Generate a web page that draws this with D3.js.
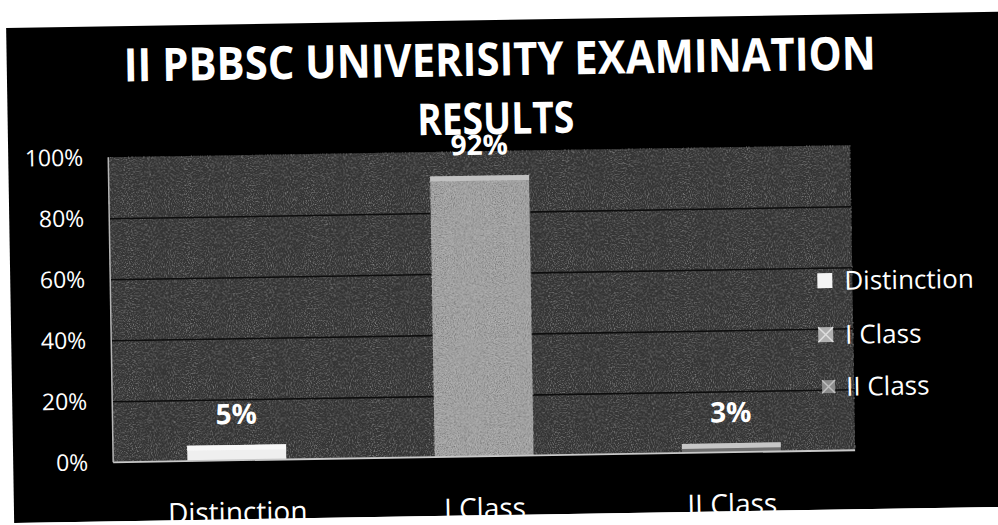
<!DOCTYPE html>
<html>
<head>
<meta charset="utf-8">
<script src="https://cdn.jsdelivr.net/npm/d3@7"></script>
<style>
  html, body { margin: 0; padding: 0; background: #ffffff; overflow: hidden; }
  svg { display: block; }
  text { font-family: "Open Sans", "Liberation Sans", sans-serif; }
</style>
</head>
<body>
<svg id="chart" width="998" height="525"></svg>
<script>
// ---- data ----
const categories = ["Distinction", "I Class", "II Class"];
const values = [5, 92, 3];
const yTicks = [0, 20, 40, 60, 80, 100];
const gridTicks = [20, 40, 60, 80];
const titleLines = ["II PBBSC UNIVERISITY EXAMINATION", "RESULTS"];
const legendNames = ["Distinction", "I Class", "II Class"];

// ---- styles ----
const barFill = { "Distinction": "#efefef", "I Class": "#a2a2a2", "II Class": "#6e6e6e" };
const barTop = { "Distinction": "#f7f7f7", "I Class": "#c4c4c4", "II Class": "#d0d0d0" };

const svg = d3.select("#chart");
const defs = svg.append("defs");

// grain filter (light speckles)
const f1 = defs.append("filter").attr("id", "grainLight")
  .attr("x", 0).attr("y", 0).attr("width", "100%").attr("height", "100%");
f1.append("feTurbulence").attr("type", "fractalNoise").attr("baseFrequency", "0.95 0.75")
  .attr("numOctaves", 2).attr("seed", 7).attr("result", "t");
f1.append("feColorMatrix").attr("type", "matrix")
  .attr("values", "0 0 0 0 1  0 0 0 0 1  0 0 0 0 1  2.2 0 0 0 -1.0");
// grain filter (dark speckles)
const f2 = defs.append("filter").attr("id", "grainDark")
  .attr("x", 0).attr("y", 0).attr("width", "100%").attr("height", "100%");
f2.append("feTurbulence").attr("type", "fractalNoise").attr("baseFrequency", "0.9 0.9")
  .attr("numOctaves", 2).attr("seed", 13).attr("result", "t");
f2.append("feColorMatrix").attr("type", "matrix")
  .attr("values", "0 0 0 0 0  0 0 0 0 0  0 0 0 0 0  2.2 0 0 0 -1.0");

// whole scanned chart is slightly rotated
const g = svg.append("g").attr("transform", "rotate(-0.93, 499, 262)");

// black chart area
g.append("rect").attr("x", 10).attr("y", 20).attr("width", 1100).attr("height", 495).attr("fill", "#000");

// scales
const plot = { left: 110, right: 852, top: 151, bottom: 456 };
const y = d3.scaleLinear().domain([0, 100]).range([plot.bottom, plot.top]);
const x = d3.scaleBand().domain(categories).range([plot.left, plot.right]).padding(0);
const barW = x.bandwidth() * 0.4;

// plot area background
g.append("rect").attr("x", plot.left).attr("y", plot.top)
  .attr("width", plot.right - plot.left).attr("height", plot.bottom - plot.top)
  .attr("fill", "#353535");
g.append("rect").attr("x", plot.left).attr("y", plot.top)
  .attr("width", plot.right - plot.left).attr("height", plot.bottom - plot.top)
  .attr("fill", "#fff").attr("filter", "url(#grainLight)").attr("opacity", 0.45);

// gridlines
const grid = g.append("g").attr("transform", `translate(${plot.left},0)`)
  .call(d3.axisLeft(y).tickValues(gridTicks).tickSize(-(plot.right - plot.left)).tickFormat(""));
grid.select(".domain").remove();
grid.selectAll("line").attr("stroke", "#0d0d0d").attr("stroke-width", 1.6);

// bars
const bars = g.append("g");
categories.forEach((c, i) => {
  const bx = x(c) + (x.bandwidth() - barW) / 2;
  const by = y(values[i]);
  const bh = y(0) - y(values[i]);
  bars.append("rect").attr("x", bx).attr("y", by).attr("width", barW).attr("height", bh)
    .attr("fill", barFill[c]);
  if (c === "I Class") {
    bars.append("rect").attr("x", bx).attr("y", by).attr("width", barW).attr("height", bh)
      .attr("fill", "#000").attr("filter", "url(#grainDark)").attr("opacity", 0.35);
    bars.append("rect").attr("x", bx).attr("y", by).attr("width", barW).attr("height", bh)
      .attr("fill", "#fff").attr("filter", "url(#grainLight)").attr("opacity", 0.35);
  }
  // light top bevel
  bars.append("rect").attr("x", bx).attr("y", by).attr("width", barW)
    .attr("height", Math.min(5, bh)).attr("fill", barTop[c]).attr("opacity", 0.9);
});

// axis border lines (left & bottom)
g.append("line").attr("x1", plot.left).attr("x2", plot.left).attr("y1", plot.top).attr("y2", plot.bottom)
  .attr("stroke", "#b5b5b5").attr("stroke-width", 1.5);
g.append("line").attr("x1", plot.left).attr("x2", plot.right).attr("y1", plot.bottom).attr("y2", plot.bottom)
  .attr("stroke", "#c8c8c8").attr("stroke-width", 1.8);

// y tick labels
const yAxis = g.append("g").attr("transform", `translate(${plot.left},0)`)
  .call(d3.axisLeft(y).tickValues(yTicks).tickSize(0).tickPadding(25).tickFormat(d => d + "%"));
yAxis.select(".domain").remove();
yAxis.selectAll("text").attr("fill", "#fff").style("font-size", "23px")
  .style("font-family", "'Open Sans', sans-serif");

// data labels
g.append("g").selectAll("text").data(categories).join("text")
  .attr("x", d => x(d) + x.bandwidth() / 2)
  .attr("y", (d, i) => y(values[i]) - 21)
  .attr("text-anchor", "middle").attr("fill", "#fff")
  .style("font-size", "28px").style("font-weight", "bold")
  .text((d, i) => values[i] + "%");

// x axis labels
const xAxis = g.append("g").attr("transform", `translate(0,${plot.bottom})`)
  .call(d3.axisBottom(x).tickSize(0).tickPadding(42));
xAxis.select(".domain").remove();
xAxis.selectAll("text").attr("fill", "#fff").style("font-size", "28px")
  .style("font-family", "'Open Sans', sans-serif");

// title
g.append("text").attr("x", 503).attr("y", 75.5).attr("text-anchor", "middle")
  .attr("fill", "#fff").style("font-size", "46px").style("font-weight", "bold")
  .attr("textLength", 752).attr("lengthAdjust", "spacingAndGlyphs")
  .text(titleLines[0]);
g.append("text").attr("x", 498).attr("y", 134).attr("text-anchor", "middle")
  .attr("fill", "#fff").style("font-size", "44px").style("font-weight", "bold")
  .attr("textLength", 157).attr("lengthAdjust", "spacingAndGlyphs")
  .text(titleLines[1]);

// legend
const legY = [286, 340, 392];
const leg = g.append("g");
legendNames.forEach((n, i) => {
  const cy = legY[i];
  const s = i === 2 ? 13 : 15;
  const sx = i === 2 ? 820 : 817;
  const col = i === 0 ? "#f4f4f4" : (i === 1 ? "#b0b0b0" : "#8c8c8c");
  leg.append("rect").attr("x", sx).attr("y", cy - s / 2).attr("width", s).attr("height", s).attr("fill", col);
  if (i > 0) {
    leg.append("path")
      .attr("d", `M${sx},${cy - s / 2}L${sx + s},${cy + s / 2}M${sx + s},${cy - s / 2}L${sx},${cy + s / 2}`)
      .attr("stroke", i === 1 ? "#dedede" : "#c0c0c0").attr("stroke-width", 1.5);
  }
  leg.append("text").attr("x", 844).attr("y", cy).attr("dy", "0.36em")
    .attr("fill", "#fff").style("font-size", "26px").text(n);
});

// paper below the scanned chart area (clips the bottom labels as in the scan)
g.append("rect").attr("x", -100).attr("y", 515).attr("width", 1300).attr("height", 200).attr("fill", "#fff");
</script>
</body>
</html>
